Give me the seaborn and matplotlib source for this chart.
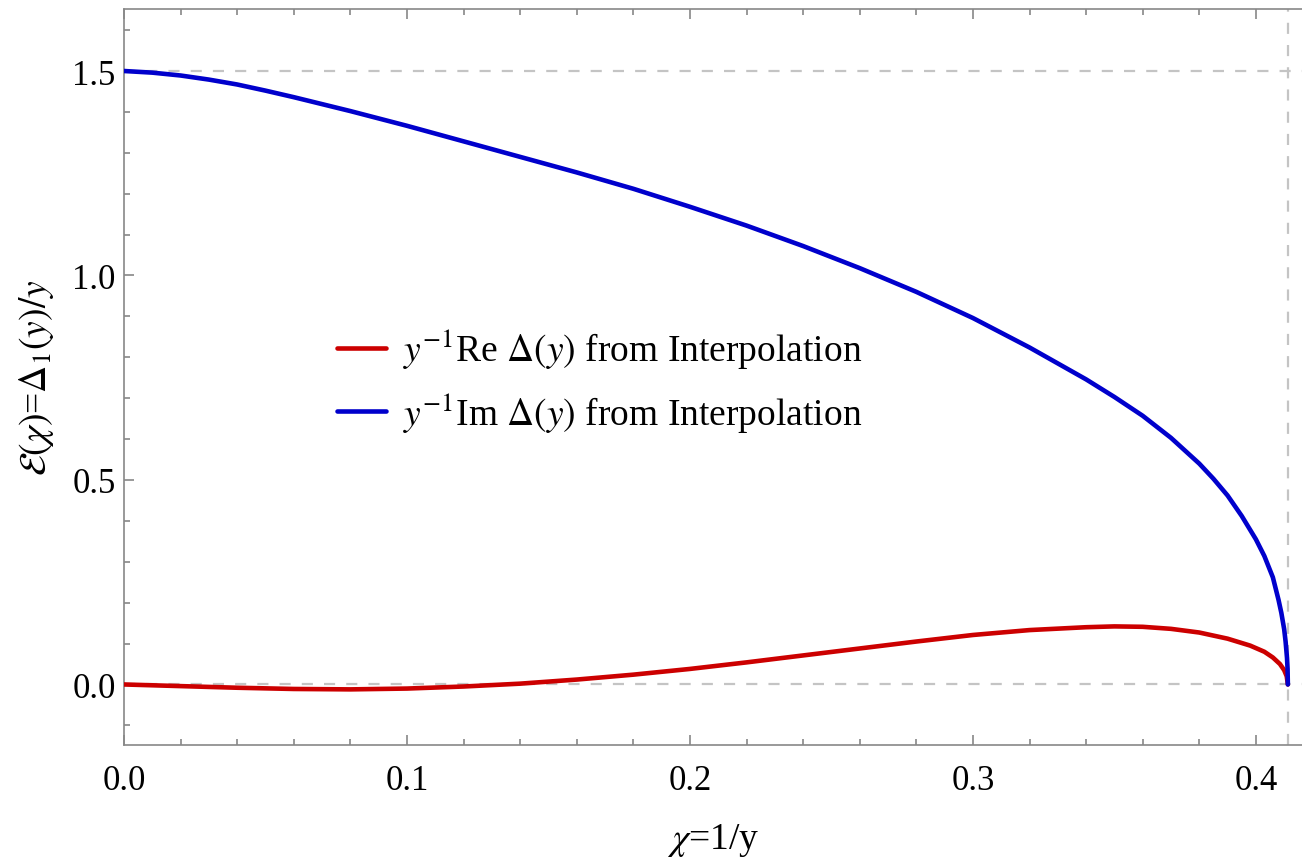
import numpy as np
import pandas as pd
import matplotlib
matplotlib.use("Agg")
import matplotlib.pyplot as plt
from matplotlib.ticker import MultipleLocator
import seaborn as sns

# values
chi_im = [0.0, 0.01, 0.02, 0.03, 0.04, 0.05, 0.06, 0.08, 0.10, 0.12, 0.14, 0.16,
          0.18, 0.20, 0.22, 0.24, 0.26, 0.28, 0.30, 0.32, 0.34, 0.35, 0.36, 0.37,
          0.38, 0.385, 0.39, 0.395, 0.40, 0.403, 0.406, 0.408, 0.409, 0.410,
          0.4105, 0.411, 0.4112, 0.4113]
im_vals = [1.500, 1.496, 1.489, 1.479, 1.467, 1.452, 1.436, 1.402, 1.366, 1.328,
           1.290, 1.252, 1.212, 1.168, 1.122, 1.072, 1.018, 0.960, 0.896, 0.824,
           0.746, 0.703, 0.657, 0.603, 0.540, 0.503, 0.462, 0.412, 0.355, 0.314,
           0.262, 0.207, 0.175, 0.135, 0.105, 0.065, 0.038, 0.0]

chi_re = [0.0, 0.02, 0.04, 0.06, 0.08, 0.10, 0.12, 0.14, 0.16, 0.18, 0.20, 0.22,
          0.24, 0.26, 0.28, 0.30, 0.32, 0.34, 0.35, 0.36, 0.37, 0.38, 0.39,
          0.398, 0.403, 0.406, 0.4085, 0.410, 0.4109, 0.4113]
re_vals = [0.0, -0.004, -0.008, -0.011, -0.012, -0.010, -0.005, 0.002, 0.012, 0.024,
           0.038, 0.054, 0.071, 0.088, 0.105, 0.121, 0.133, 0.140, 0.142, 0.141,
           0.136, 0.127, 0.112, 0.095, 0.080, 0.066, 0.050, 0.035, 0.020, 0.0]

chi_c = 0.4113
x_ticks = [0.0, 0.1, 0.2, 0.3, 0.4]
y_ticks = [0.0, 0.5, 1.0, 1.5]

sns.set_theme(style="ticks")
plt.rcParams["font.family"] = ["Liberation Serif", "DejaVu Serif"]
plt.rcParams["mathtext.fontset"] = "stix"
plt.rcParams["text.color"] = "black"
plt.rcParams["axes.labelcolor"] = "black"
plt.rcParams["xtick.labelcolor"] = "black"
plt.rcParams["ytick.labelcolor"] = "black"

fig = plt.figure(figsize=(13.02, 8.62), dpi=100)
ax = fig.add_axes([124 / 1302, 116 / 862, 1 - 124 / 1302, 736 / 862])

# guide lines
ax.axhline(1.5, color="#c4c4c4", lw=1.6, ls=(0, (5, 5)), zorder=1)
ax.axhline(0.0, color="#c4c4c4", lw=1.6, ls=(0, (5, 5)), zorder=1)
ax.axvline(chi_c, color="#c4c4c4", lw=1.6, ls=(0, (5, 5)), zorder=1)

sns.lineplot(x=chi_re, y=re_vals, ax=ax, color="#cc0000", lw=3.3, sort=False,
             label=r"$y^{-1}$Re $\Delta(y)$ from Interpolation", zorder=3)
sns.lineplot(x=chi_im, y=im_vals, ax=ax, color="#0000cc", lw=3.3, sort=False,
             label=r"$y^{-1}$Im $\Delta(y)$ from Interpolation", zorder=3)

ax.set_xlim(0.0, 0.4163)
ax.set_ylim(-0.148, 1.6516)
ax.set_xticks(x_ticks)
ax.set_yticks(y_ticks)
ax.set_xticklabels([f"{v:.1f}" for v in x_ticks])
ax.set_yticklabels([f"{v:.1f}" for v in y_ticks])
ax.xaxis.set_minor_locator(MultipleLocator(0.02))
ax.yaxis.set_minor_locator(MultipleLocator(0.1))

ax.tick_params(axis="both", which="both", direction="in", color="#888888",
               labelsize=25, width=1.2, labelcolor="black")
ax.tick_params(axis="x", which="both", top=True, pad=14)
ax.tick_params(axis="y", which="both", right=False, pad=6)
ax.tick_params(which="major", length=7.5)
ax.tick_params(which="minor", length=4.5)

for side in ["left", "bottom", "top"]:
    ax.spines[side].set_color("#888888")
    ax.spines[side].set_linewidth(1.2)
ax.spines["right"].set_visible(False)

ax.set_xlabel(r"$\chi$=1/y", fontsize=27, labelpad=17, color="black")
ax.set_ylabel(r"$\mathcal{E}(\chi)$=$\Delta_1(y)/y$", fontsize=27, labelpad=12,
              color="black")

leg = ax.legend(loc="center left", bbox_to_anchor=(0.181, 0.495), frameon=False,
                fontsize=27, handlelength=1.3, handletextpad=0.45,
                labelspacing=0.5, borderpad=0, borderaxespad=0)
for t in leg.get_texts():
    t.set_color("black")

fig.savefig("out.png", dpi=100)
